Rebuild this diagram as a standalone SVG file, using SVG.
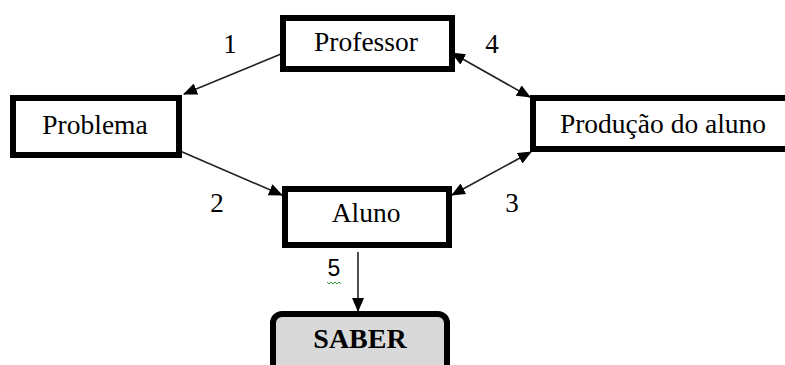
<svg xmlns="http://www.w3.org/2000/svg" width="785" height="365" viewBox="0 0 785 365">
<defs>
<style>
.box{fill:#fff;stroke:#000;stroke-width:6}
.saber{fill:#d9d9d9;stroke:#000;stroke-width:6}
.t{font-family:"Liberation Serif","Times New Roman",serif;font-size:27.5px;fill:#000;text-anchor:middle}
.b{font-weight:bold;font-size:28px}
.n{font-family:"Liberation Serif","Times New Roman",serif;font-size:27px;fill:#000;text-anchor:middle}
.c{stroke:#222;stroke-width:1.6;fill:none}
</style>
<marker id="ah" markerUnits="userSpaceOnUse" markerWidth="14" markerHeight="12" refX="13" refY="6" orient="auto-start-reverse" viewBox="0 0 14 12">
<path d="M0,0 L14,6 L0,12 z" fill="#000"/>
</marker>
</defs>
<rect width="785" height="365" fill="#fff"/>
<g id="connectors">
<line class="c" x1="281" y1="54" x2="184" y2="94" marker-end="url(#ah)"/>
<line class="c" x1="452" y1="53" x2="530" y2="97" marker-start="url(#ah)" marker-end="url(#ah)"/>
<line class="c" x1="180" y1="151" x2="282" y2="195" marker-end="url(#ah)"/>
<line class="c" x1="452" y1="195" x2="531" y2="152" marker-start="url(#ah)" marker-end="url(#ah)"/>
<line class="c" x1="358" y1="252" x2="358" y2="311" marker-end="url(#ah)"/>
<text class="n" x="230" y="53">1</text>
<text class="n" x="492" y="53">4</text>
<text class="n" x="217" y="212">2</text>
<text class="n" x="512" y="212">3</text>
<text x="334" y="276" style="font-family:'Liberation Sans',Arial,sans-serif;font-size:23px;fill:#000;text-anchor:middle">5</text>
<path d="M327,282 l2,2 l2,-2 l2,2 l2,-2 l2,2 l2,-2 l2,2" fill="none" stroke="#3a9a3a" stroke-width="1"/>
</g>
<g id="professor">
<rect class="box" x="283" y="18" width="169" height="51"/>
<text class="t" x="366" y="51">Professor</text>
</g>
<g id="problema">
<rect class="box" x="13" y="98" width="166" height="57"/>
<text class="t" x="95" y="134">Problema</text>
</g>
<g id="producao">
<rect class="box" x="533" y="98" width="270" height="51"/>
<text class="t" x="663" y="133">Produção do aluno</text>
</g>
<g id="aluno">
<rect class="box" x="285" y="189" width="164" height="56"/>
<text class="t" x="366" y="222">Aluno</text>
</g>
<g id="saber">
<rect class="saber" x="273" y="314" width="174" height="70" rx="9"/>
<text class="t b" x="360" y="348">SABER</text>
</g>
</svg>
